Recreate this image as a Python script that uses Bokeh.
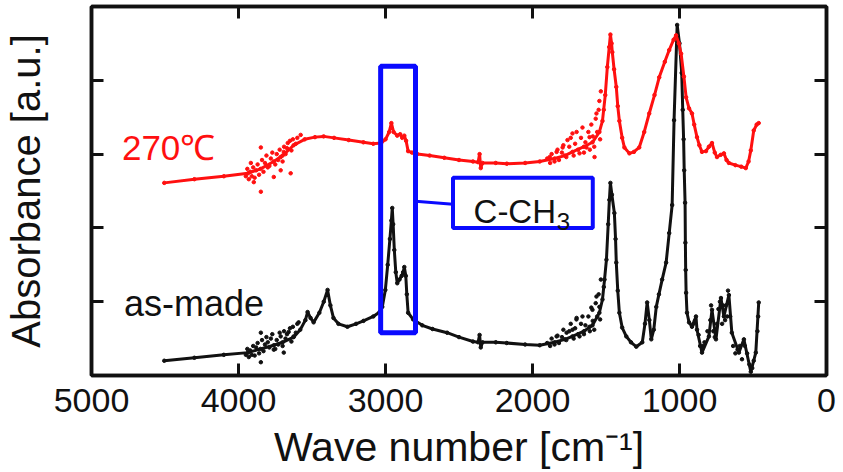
from bokeh.plotting import figure
from bokeh.models import Range1d, LinearAxis, FixedTicker, Label
from bokeh.embed import file_html
from bokeh.resources import INLINE

FONT = "Liberation Sans"

# IR spectra: wave number [cm^-1] vs absorbance [a.u.]
asmade_wn = [4505, 4300, 4100, 3936, 3850, 3760, 3700, 3625, 3580, 3545, 3530, 3510,
             3489, 3450, 3420, 3394, 3375, 3354, 3320, 3259, 3200, 3150, 3083, 3040,
             3022, 3001, 2985, 2970, 2960, 2954, 2948, 2940, 2930, 2920, 2905, 2890,
             2880, 2872, 2862, 2855, 2846, 2812, 2750, 2680, 2581, 2500, 2405, 2370,
             2360, 2352, 2340, 2250, 2175, 2050, 1951, 1850, 1780, 1728, 1650, 1592,
             1545, 1524, 1510, 1497, 1485, 1477, 1470, 1460, 1443, 1435, 1430, 1420,
             1409, 1390, 1362, 1330, 1294, 1253, 1235, 1220, 1205, 1192, 1175, 1158,
             1140, 1118, 1091, 1070, 1050, 1037, 1016, 1000, 985, 978, 972, 968,
             962, 960, 958, 955, 949, 935, 915, 888, 881, 847, 800, 779,
             752, 718, 698, 664, 644, 596, 562, 515, 481, 461]
asmade_abs = [0.20, 0.24, 0.28, 0.31, 0.36, 0.41, 0.45, 0.52, 0.62, 0.75, 0.86, 0.78,
              0.72, 0.85, 1.00, 1.16, 0.95, 0.78, 0.70, 0.66, 0.70, 0.74, 0.80, 0.86,
              0.93, 1.16, 1.50, 1.85, 2.10, 2.27, 2.05, 1.70, 1.40, 1.25, 1.30, 1.35,
              1.40, 1.47, 1.35, 1.10, 0.85, 0.76, 0.68, 0.63, 0.58, 0.52, 0.46, 0.45,
              0.55, 0.38, 0.45, 0.45, 0.44, 0.42, 0.41, 0.45, 0.49, 0.53, 0.60, 0.68,
              0.85, 1.03, 1.30, 1.57, 2.05, 2.38, 2.61, 2.45, 2.20, 1.85, 1.53, 1.15,
              0.85, 0.65, 0.53, 0.45, 0.39, 0.45, 0.70, 0.99, 0.75, 0.49, 0.62, 0.93,
              1.10, 1.30, 1.53, 1.93, 2.31, 3.46, 4.75, 4.50, 4.10, 3.60, 3.20, 2.78,
              2.34, 1.80, 1.43, 1.12, 0.85, 0.72, 0.66, 0.80, 0.62, 0.31, 0.53, 0.89,
              0.49, 1.05, 0.80, 1.09, 0.58, 0.31, 0.49, 0.05, 0.31, 0.99]

heated_wn = [4505, 4300, 4100, 3936, 3850, 3760, 3700, 3625, 3550, 3480, 3421, 3350,
             3250, 3150, 3083, 3030, 3000, 2975, 2960, 2945, 2920, 2900, 2886, 2872,
             2860, 2846, 2820, 2784, 2700, 2600, 2500, 2405, 2370, 2360, 2352, 2340,
             2250, 2175, 2050, 1951, 1850, 1780, 1728, 1650, 1592, 1545, 1524, 1505,
             1491, 1478, 1470, 1462, 1457, 1445, 1430, 1420, 1409, 1390, 1375, 1341,
             1310, 1274, 1240, 1206, 1170, 1138, 1100, 1070, 1040, 1023, 1005, 989,
             970, 955, 935, 915, 900, 881, 865, 847, 820, 800, 779, 760,
             745, 720, 698, 680, 664, 620, 580, 549, 530, 515, 495, 475, 461]
heated_abs = [2.61, 2.66, 2.70, 2.74, 2.80, 2.90, 2.98, 3.12, 3.20, 3.23, 3.24, 3.22,
              3.19, 3.16, 3.14, 3.15, 3.20, 3.30, 3.42, 3.30, 3.25, 3.27, 3.22, 3.25,
              3.18, 3.04, 3.02, 3.00, 2.98, 2.95, 2.92, 2.90, 2.89, 3.00, 2.81, 2.88,
              2.88, 2.87, 2.88, 2.90, 2.94, 2.98, 3.03, 3.10, 3.16, 3.30, 3.45, 3.80,
              4.18, 4.45, 4.62, 4.50, 4.38, 4.15, 3.91, 3.65, 3.45, 3.22, 3.09, 3.01,
              3.03, 3.09, 3.30, 3.55, 3.80, 4.04, 4.25, 4.41, 4.55, 4.61, 4.50, 4.36,
              4.05, 3.77, 3.62, 3.55, 3.40, 3.23, 3.12, 3.03, 3.04, 3.10, 3.15, 3.02,
              2.96, 2.99, 3.01, 2.92, 2.88, 2.85, 2.83, 2.81, 2.90, 3.05, 3.32, 3.40, 3.42]

# scattered readings in the noisy O-H, H2O and fingerprint bands
asmade_noise_wn = [3950, 3940, 3930, 3920, 3910, 3900, 3890, 3880, 3870, 3860, 3848, 3848,
                   3840, 3830, 3820, 3810, 3801, 3790, 3780, 3770, 3760, 3750, 3740, 3730,
                   3720, 3713, 3700, 3692, 3690, 3680, 3670, 3659, 3650, 3640, 3630, 3625,
                   3610, 3600, 3591,
                   1900, 1880, 1870, 1850, 1836, 1830, 1820, 1800, 1790, 1770, 1768, 1750,
                   1740, 1728, 1720, 1710, 1701, 1700, 1690, 1680, 1670, 1660, 1650, 1640,
                   1620, 1612, 1610, 1600, 1592, 1590, 1580, 1570, 1565, 1560, 1550, 1545,
                   1540, 1535, 1515,
                   905, 895, 870, 860, 840, 830, 810, 790, 785, 770, 760, 745, 735, 725,
                   710, 705, 690, 685, 675, 670, 655, 635, 620, 605, 590, 575, 555, 540,
                   525, 505, 495, 470, 465]
asmade_noise_abs = [0.28, 0.36, 0.25, 0.34, 0.28, 0.40, 0.27, 0.38, 0.44, 0.30, 0.58, 0.18,
                    0.48, 0.33, 0.42, 0.52, 0.45, 0.38, 0.50, 0.56, 0.35, 0.36, 0.48, 0.42,
                    0.58, 0.53, 0.40, 0.31, 0.60, 0.50, 0.56, 0.59, 0.64, 0.46, 0.66, 0.53,
                    0.58, 0.70, 0.72,
                    0.44, 0.40, 0.50, 0.42, 0.53, 0.54, 0.44, 0.52, 0.62, 0.48, 0.58, 0.60,
                    0.70, 0.62, 0.50, 0.64, 0.76, 0.78, 0.56, 0.53, 0.70, 0.80, 0.56, 0.68,
                    0.80, 0.66, 0.60, 0.92, 0.89, 0.74, 0.62, 0.98, 1.07, 0.80, 1.10, 0.93,
                    0.76, 1.30, 1.20,
                    0.70, 0.74, 0.55, 0.40, 0.40, 0.45, 0.60, 0.75, 0.95, 0.60, 0.52, 0.70,
                    0.90, 1.00, 0.70, 0.95, 0.75, 0.95, 0.80, 1.15, 0.80, 0.40, 0.30, 0.35,
                    0.40, 0.22, 0.40, 0.30, 0.15, 0.10, 0.20, 0.60, 0.80]
heated_noise_wn = [3950, 3940, 3930, 3920, 3916, 3910, 3900, 3896, 3890, 3880, 3870, 3860,
                   3848, 3848, 3840, 3830, 3820, 3810, 3801, 3790, 3780, 3770, 3760, 3750,
                   3740, 3730, 3720, 3713, 3713, 3700, 3692, 3690, 3680, 3670, 3665, 3650,
                   3645, 3640, 3630, 3610, 3600, 3577,
                   1900, 1883, 1880, 1870, 1850, 1836, 1830, 1820, 1800, 1795, 1790, 1770,
                   1762, 1750, 1740, 1728, 1720, 1710, 1700, 1690, 1680, 1670, 1660, 1650,
                   1640, 1633, 1620, 1612, 1610, 1600, 1590, 1580, 1578, 1570, 1565, 1560,
                   1550, 1545, 1540, 1535, 1515]
heated_noise_abs = [2.70, 2.80, 2.66, 2.76, 2.88, 2.70, 2.82, 2.62, 2.68, 2.78, 2.86, 2.72,
                    3.09, 2.49, 2.92, 2.76, 2.88, 2.98, 2.82, 2.84, 2.94, 3.02, 2.69, 2.86,
                    3.00, 2.92, 3.06, 2.96, 2.78, 2.90, 3.03, 3.10, 3.00, 3.08, 3.15, 3.18,
                    2.74, 3.05, 3.20, 3.14, 3.22, 3.26,
                    2.94, 2.96, 2.88, 3.00, 2.90, 3.03, 3.06, 2.92, 3.02, 3.09, 3.12, 2.96,
                    3.19, 3.10, 3.22, 3.28, 2.98, 3.14, 3.30, 3.06, 3.01, 3.22, 3.36, 3.02,
                    3.16, 3.09, 3.30, 3.23, 3.06, 3.40, 3.24, 3.10, 2.96, 3.48, 3.55, 3.30,
                    3.60, 3.72, 3.20, 3.85, 3.60]

x_ticks = [0, 1000, 2000, 3000, 4000, 5000]
y_ticks = [1, 2, 3, 4]

RED = "#ff1010"
BLUE = "#0a0aff"
INK = "#111111"

p = figure(width=843, height=472, x_range=Range1d(5000, 0), y_range=Range1d(0, 5),
           output_backend="svg", toolbar_location=None,
           min_border_left=90, min_border_right=17, min_border_top=6, min_border_bottom=96)
p.background_fill_color = "white"
p.border_fill_color = "white"
p.outline_line_color = INK
p.outline_line_width = 3.5
p.xgrid.visible = False
p.ygrid.visible = False

bottom_axis = p.below[0]
left_axis = p.left[0]
top_axis = LinearAxis()
right_axis = LinearAxis()
p.add_layout(top_axis, "above")
p.add_layout(right_axis, "right")


def style_axis(ax, ticks, show_labels):
    ax.ticker = FixedTicker(ticks=ticks)
    ax.axis_line_color = INK
    ax.axis_line_width = 3.5
    ax.major_tick_in = 12
    ax.major_tick_out = 0
    ax.major_tick_line_width = 3
    ax.major_tick_line_color = INK
    ax.minor_tick_line_color = None
    if show_labels:
        ax.major_label_text_font = FONT
        ax.major_label_text_font_size = "34px"
        ax.major_label_text_color = INK
        ax.major_label_standoff = 13
    else:
        ax.major_label_text_color = None
        ax.major_label_text_font_size = "0px"
        ax.major_label_standoff = 0


style_axis(bottom_axis, x_ticks, True)
style_axis(left_axis, y_ticks, False)
style_axis(top_axis, x_ticks, False)
style_axis(right_axis, y_ticks, False)

bottom_axis.axis_label = "Wave number [cm⁻¹]"
bottom_axis.axis_label_text_font = FONT
bottom_axis.axis_label_text_font_size = "41px"
bottom_axis.axis_label_text_font_style = "normal"
bottom_axis.axis_label_text_color = INK
bottom_axis.axis_label_standoff = 9

left_axis.axis_label = "Absorbance [a.u.]"
left_axis.axis_label_text_font = FONT
left_axis.axis_label_text_font_size = "40px"
left_axis.axis_label_text_font_style = "normal"
left_axis.axis_label_text_color = INK
left_axis.axis_label_standoff = 44

# spectra
p.line(asmade_wn, asmade_abs, line_color=INK, line_width=3)
p.scatter(asmade_wn, asmade_abs, size=3.5, color=INK)
p.scatter(asmade_noise_wn, asmade_noise_abs, size=3.5, color=INK)
p.line(heated_wn, heated_abs, line_color=RED, line_width=3)
p.scatter(heated_wn, heated_abs, size=3.5, color=RED)
p.scatter(heated_noise_wn, heated_noise_abs, size=3.5, color=RED)

# C-CH3 band marker and its callout
p.quad(left=[3033], right=[2796], top=[4.19], bottom=[0.58],
       fill_color=None, line_color=BLUE, line_width=5)
p.line([2796, 2541], [2.36, 2.32], line_color=BLUE, line_width=3)
p.quad(left=[2541], right=[1590], top=[2.68], bottom=[2.0],
       fill_color="white", line_color=BLUE, line_width=4)


def label(x, y, text, size, color=INK):
    p.add_layout(Label(x=x, y=y, text=text, text_font=FONT, text_font_size=size,
                       text_color=color, text_baseline="alphabetic"))


label(2401, 2.22, "C-CH", "33px")
label(1835, 2.08, "3", "24px")
label(4793, 3.09, "270℃", "35px", color=RED)
label(4779, 0.97, "as-made", "36px")

open("out.html", "w").write(file_html(p, INLINE))
